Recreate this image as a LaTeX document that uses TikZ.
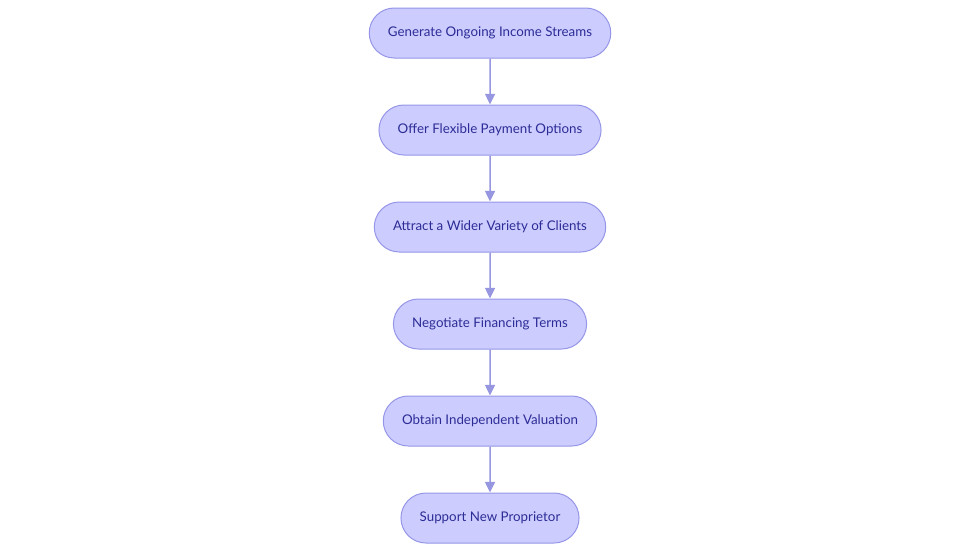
\documentclass[tikz,border=0pt]{standalone}
\usepackage{fontspec}
\setmainfont{Lato}
\usetikzlibrary{arrows.meta, positioning, shapes.misc}
\definecolor{sfill}{RGB}{204,204,255}
\definecolor{sline}{RGB}{150,150,232}
\definecolor{stext}{RGB}{44,44,150}
\definecolor{sarr}{RGB}{150,150,225}

\begin{document}
\begin{tikzpicture}[x=0.75pt, y=0.75pt,
  stepbox/.style={draw=sline, fill=sfill, text=stext, rounded rectangle,
                  font=\fontsize{10}{12}\selectfont, minimum height=37.5pt,
                  inner xsep=13.5pt, line width=0.75pt},
  arr/.style={-{Triangle[width=7.5pt, length=8pt]}, sarr, line width=1.1pt}
]
\useasboundingbox (0,0) rectangle (980,-553);
\node[stepbox] (gen) at (490, -33)  {Generate Ongoing Income Streams};
\node[stepbox] (pay) at (490, -130) {Offer Flexible Payment Options};
\node[stepbox] (cli) at (490, -227) {Attract a Wider Variety of Clients};
\node[stepbox] (neg) at (490, -324) {Negotiate Financing Terms};
\node[stepbox] (val) at (490, -421) {Obtain Independent Valuation};
\node[stepbox] (sup) at (490, -518) {Support New Proprietor};
\draw[arr] (gen)--(pay);
\draw[arr] (pay)--(cli);
\draw[arr] (cli)--(neg);
\draw[arr] (neg)--(val);
\draw[arr] (val)--(sup);
\end{tikzpicture}
\end{document}
